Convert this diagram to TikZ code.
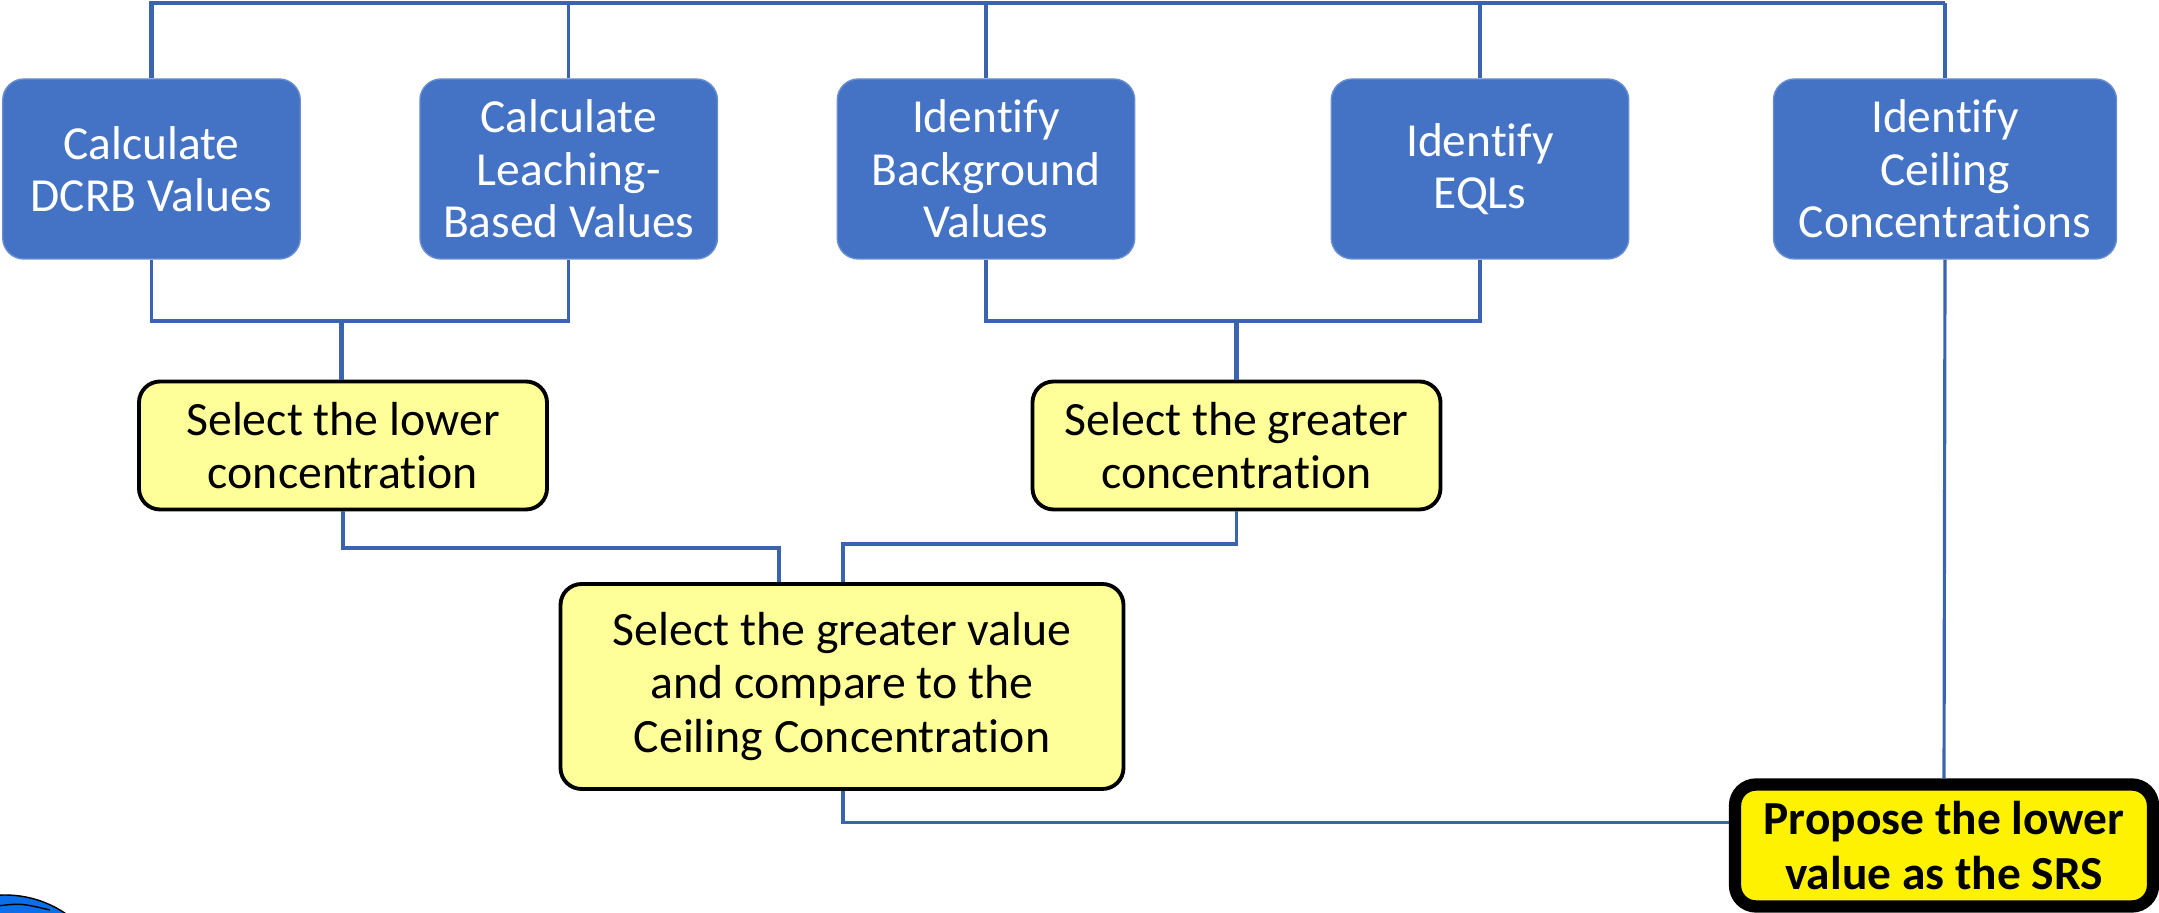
\documentclass[tikz,border=0pt]{standalone}
\usepackage{fontspec}
\setmainfont{Carlito}[Ligatures=NoCommon]
\usepackage{xcolor}
\usetikzlibrary{shapes}

\definecolor{boxblue}{HTML}{4472C4}
\definecolor{linkblue}{HTML}{3B64B0}
\definecolor{paleyellow}{HTML}{FFFF99}
\definecolor{logoblue}{HTML}{0A6FE8}

\tikzset{
  bluebox/.style={rectangle, rounded corners=6pt, fill=boxblue, draw=boxblue!80!white,
    text=white, align=center, font=\fontsize{13.5}{14.9}\selectfont,
    minimum width=2.975cm, minimum height=1.8cm, inner sep=2pt},
  selbox/.style={rectangle, rounded corners=6pt, fill=paleyellow, draw=black, line width=1.1pt,
    align=center, font=\fontsize{13.6}{15.2}\selectfont, minimum width=4.08cm, minimum height=1.28cm},
  srsbox/.style={rectangle, rounded corners=6pt, fill=yellow, draw=black, line width=3.5pt,
    align=center, font=\fontsize{13.5}{15.4}\selectfont\bfseries, minimum width=4.18cm, minimum height=1.22cm},
  link/.style={draw=linkblue, line width=0.9pt}
}

\begin{document}
\begin{tikzpicture}
		\useasboundingbox (0,0) rectangle (21.59,9.13);
		% logo corner
		\begin{scope}
		\clip (0,0) rectangle (1,0.3);
		\filldraw[fill=logoblue, draw=black, thin] (0.05,-0.9) circle (1.08);
		\draw[black, thin] (-0.1,0.06) .. controls (0.2,0.1) .. (0.5,0.03);
		\end{scope}
		% top row
		\node[bluebox] (dcrb) at (1.515,7.44) {Calculate\\DCRB Values};
		\node[bluebox] (leach) at (5.687,7.44) {Calculate\\Leaching-\\Based Values};
		\node[bluebox] (backgr) at (9.86,7.44) {Identify\\Background\\Values};
		\node[bluebox] (eql) at (14.80,7.44) {Identify\\EQLs};
		\node[bluebox, minimum width=3.43cm] (ceil) at (19.45,7.44) {Identify\\Ceiling\\Concentrations};
		% selection steps
		\node[selbox] (lower) at (3.43,4.675) {Select the lower\\concentration};
		\node[selbox] (greater) at (12.365,4.675) {Select the greater\\concentration};
		\node[selbox, minimum width=5.63cm, minimum height=2.05cm] (compare) at (8.42,2.265)
			{Select the greater value\\and compare to the\\Ceiling Concentration};
		\node[srsbox] (srs) at (19.44,0.675) {Propose the lower\\value as the SRS};
		% junction points
		\coordinate (top) at (0,9.10);
		\coordinate (j1) at (3.415,5.92);
		\coordinate (j2) at (12.365,5.92);
		\coordinate (k1) at (7.79,3.65);
		\coordinate (k2) at (8.43,3.69);
		% connectors
		\draw[link, line width=1.4pt] (dcrb.north) |- (top -| ceil.north);
		\draw[link] (top -| ceil.north) -- (ceil.north);
		\draw[link] (leach.north) -- (leach.north |- top);
		\draw[link] (backgr.north) -- (backgr.north |- top);
		\draw[link] (eql.north) -- (eql.north |- top);
		\draw[link] (dcrb.south) |- (j1) -| (leach.south);
		\draw[link, line width=1.4pt] (j1) -- (j1 |- lower.north);
		\draw[link] (backgr.south) |- (j2) -| (eql.south);
		\draw[link, line width=1.4pt] (j2) -- (j2 |- greater.north);
		\draw[link] (lower.south) |- (k1) -- (k1 |- compare.north);
		\draw[link] (greater.south) |- (k2) -- (k2 |- compare.north);
		\draw[link] (compare.south -| k2) |- ([yshift=0.23cm]srs.west);
		\draw[link] (ceil.south) -- (srs.north);
		\end{tikzpicture}
\end{document}
